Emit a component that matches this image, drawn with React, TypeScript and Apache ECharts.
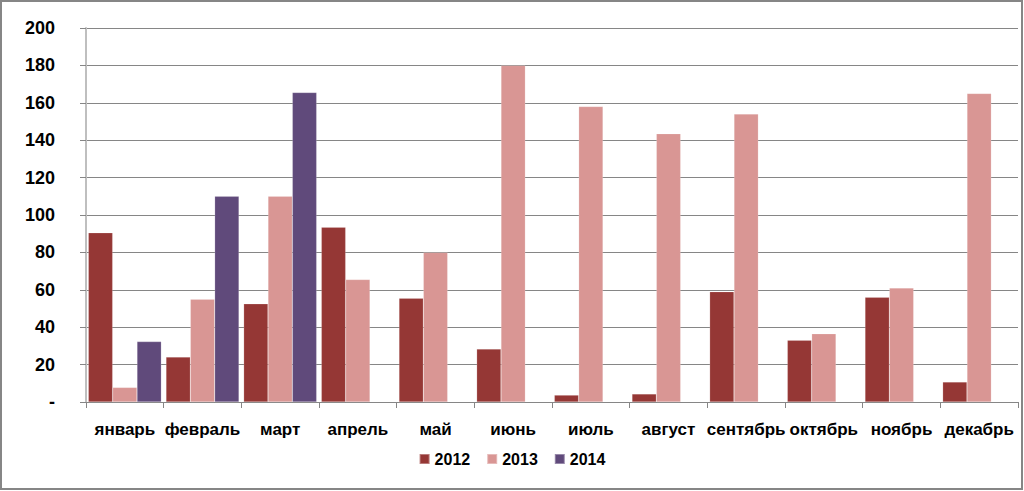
import React, { useEffect, useRef } from "react";
import * as echarts from "echarts";

const months = ["январь", "февраль", "март", "апрель", "май", "июнь", "июль", "август", "сентябрь", "октябрь", "ноябрь", "декабрь"];
const s2012 = [90.5, 24, 52.5, 93.5, 55.5, 28.3, 3.7, 4.3, 59, 33, 56, 10.7];
const s2013 = [7.8, 55, 110, 65.5, 80, 180, 158, 143.5, 154, 36.5, 61, 165];
const s2014: (number | null)[] = [32.3, 110, 165.5, null, null, null, null, null, null, null, null, null];
const yMin = 0;
const yMax = 200;
const yStep = 20;

const FONT = "'Liberation Sans', Arial, sans-serif";

export default function App() {
  const ref = useRef<HTMLDivElement>(null);
  useEffect(() => {
    if (!ref.current) return;
    const chart = echarts.init(ref.current, undefined, { renderer: "svg" });
    const barStyle = (c: string) => ({ color: c, borderColor: "rgba(255,255,255,0.35)", borderWidth: 0.5 });
    chart.setOption({
      animation: false,
      backgroundColor: "#ffffff",
      textStyle: { fontFamily: FONT },
      grid: { left: 86, right: 6, top: 28, bottom: 89, containLabel: false },
      legend: {
        bottom: 19,
        left: "center",
        itemWidth: 10,
        itemHeight: 10,
        itemGap: 16,
        icon: "rect",
        textStyle: { fontFamily: FONT, fontSize: 16, fontWeight: "bold", color: "#000" },
        data: ["2012", "2013", "2014"],
      },
      xAxis: {
        type: "category",
        data: months,
        axisLine: { lineStyle: { color: "#868686", width: 1 } },
        axisTick: { show: true, alignWithLabel: false, length: 6, lineStyle: { color: "#868686" } },
        axisLabel: { margin: 19, fontFamily: FONT, fontSize: 17, fontWeight: "bold", color: "#000", interval: 0 },
      },
      yAxis: {
        type: "value",
        min: yMin,
        max: yMax,
        interval: yStep,
        axisLine: { show: true, lineStyle: { color: "#bfbfbf", width: 2 } },
        axisTick: { show: true, length: 6, lineStyle: { color: "#868686" } },
        splitLine: { lineStyle: { color: "#868686", width: 1 } },
        axisLabel: {
          margin: 31,
          fontFamily: FONT,
          fontSize: 18,
          fontWeight: "bold",
          color: "#000",
          formatter: (v: number) => (v === 0 ? "-" : String(v)),
        },
      },
      series: [
        { name: "2012", type: "bar", data: s2012, itemStyle: barStyle("#953735"), barGap: "0%", barCategoryGap: "6%" },
        { name: "2013", type: "bar", data: s2013, itemStyle: barStyle("#D99694"), barGap: "0%", barCategoryGap: "6%" },
        { name: "2014", type: "bar", data: s2014, itemStyle: barStyle("#604A7B"), barGap: "0%", barCategoryGap: "6%" },
      ],
      graphic: [
        {
          type: "rect",
          shape: { x: 1, y: 1, width: 1021, height: 488 },
          style: { fill: "none", stroke: "#868686", lineWidth: 2 },
          silent: true,
        },
      ],
    });
    return () => chart.dispose();
  }, []);
  return <div ref={ref} style={{ position: "fixed", left: 0, top: 0, width: 1024, height: 491 }} />;
}
